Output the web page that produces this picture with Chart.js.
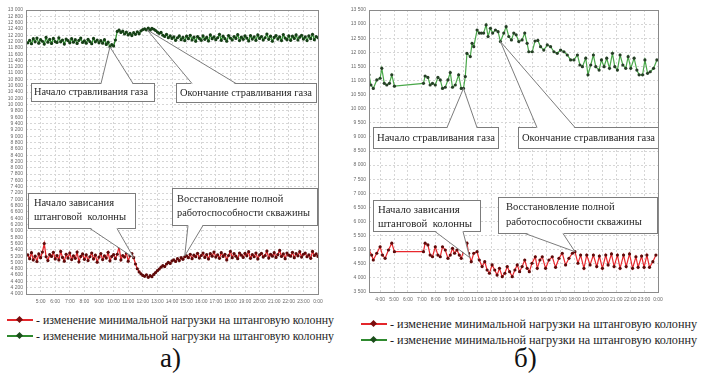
<!DOCTYPE html>
<html>
<head>
<meta charset="utf-8">
<script src="https://cdn.jsdelivr.net/npm/chart.js@4.4.1/dist/chart.umd.min.js"></script>
<style>
html,body{margin:0;padding:0;background:#fff;}
body{width:703px;height:375px;overflow:hidden;position:relative;font-family:"Liberation Serif","DejaVu Serif","Noto Serif",serif;}
#ca{position:absolute;left:0;top:0;}
#cb{position:absolute;left:345px;top:0;}
.leg{position:absolute;font-size:13px;color:#1e1e1e;white-space:nowrap;line-height:16px;}
.ic{display:inline-block;position:relative;width:26px;height:2px;vertical-align:middle;margin-right:3px;top:-1px;}
.ic::after{content:"";position:absolute;left:10px;top:-2px;width:5px;height:5px;transform:rotate(45deg);}
.ic.r{background:#e3262b;} .ic.r::after{background:#7a0d0d;}
.ic.g{background:#2f8a2f;} .ic.g::after{background:#1b4d1b;}
.cap{position:absolute;font-size:27px;color:#111;line-height:30px;}
</style>
</head>
<body>
<canvas id="ca" width="328" height="310"></canvas>
<canvas id="cb" width="325" height="310"></canvas>
<div class="leg" id="l1" style="left:7px;top:312px"><span class="ic r"></span><span class="tx">- изменение минимальной нагрузки на штанговую колонну</span></div>
<div class="leg" id="l2" style="left:7px;top:328px"><span class="ic g"></span><span class="tx">- изменение минимальной нагрузки на штанговую колонну</span></div>
<div class="leg" id="l3" style="left:361px;top:316px"><span class="ic r"></span><span class="tx">- изменение минимальной нагрузки на штанговую колонну</span></div>
<div class="leg" id="l4" style="left:361px;top:332px"><span class="ic g"></span><span class="tx">- изменение минимальной нагрузки на штанговую колонну</span></div>
<div class="cap" style="left:160px;top:343px">а)</div>
<div class="cap" style="left:514px;top:343px">б)</div>
<script>
const SERIF = '"Liberation Serif", "DejaVu Serif", "Noto Serif", serif';
// ---------- Chart a) ----------
const leftStartHour = 4.125, leftStepHour = 0.125; // sampling of chart a)
const leftGreen = [
 11960,12040,11930,12090,11990,12110,11950,12060,
 12010,11920,12130,11980,12070,11940,12100,12000,
 11970,12120,11990,12050,11920,12080,12030,11960,
 12090,11980,12060,11940,12040,12110,11970,12020,
 11950,12070,12000,11930,12100,11990,12050,11960,
 12030,11950,12060,11910,11980,11830,11900,11860,
 12050,12320,12360,12290,12330,12240,12300,12210,
 12260,12190,12280,12230,12310,12250,12340,12380,
 12400,12370,12430,12360,12420,12390,12350,12300,
 12260,12290,12200,12160,12230,12120,12180,12100,
 12150,12040,12120,12180,12060,12130,12030,12170,
 12090,12200,12050,12140,12010,12160,12100,12040,
 12180,12070,12130,12020,12210,12090,12150,12060,
 12120,12230,12040,12170,12090,12010,12190,12110,
 12050,12160,12100,12220,12030,12140,12070,12180,
 12110,12020,12190,12080,12150,12040,12210,12100,
 12160,12050,12120,12240,12070,12170,12010,12130,
 12190,12080,12150,12030,12220,12110,12060,12180,
 12040,12170,12100,12210,12050,12140,12200,12080,
 12150,12030,12180,12090,12230,12060,12160,12120
];
const leftRed = [
 5240,5120,5310,5080,5200,5030,5270,5150,
 5330,5600,5180,5060,5250,5190,5320,5110,
 5220,5080,5350,5160,5040,5260,5140,5300,
 5090,5210,5130,5330,5020,5190,5270,5100,
 5240,5060,5180,5300,5110,5230,5010,5170,
 5280,5090,5210,5140,5320,5050,5190,5250,
 5120,5260,5500,5080,5220,5170,5300,5040,
 5210,5280,5150,4950,4800,4700,4640,4590,
 4560,4610,4530,4580,4550,4620,4680,4740,
 4790,4850,4900,4870,4950,5000,4970,5050,
 5080,5030,5120,5060,5150,5100,5180,5210,
 5150,5260,5120,5230,5180,5290,5140,5220,
 5300,5160,5250,5110,5280,5200,5330,5170,
 5240,5130,5310,5190,5260,5080,5220,5350,
 5150,5280,5200,5120,5300,5230,5160,5290,
 5210,5340,5130,5250,5180,5300,5110,5240,
 5290,5170,5220,5360,5140,5260,5200,5310,
 5160,5250,5380,5190,5270,5120,5300,5230,
 5200,5320,5150,5280,5210,5340,5170,5260,
 5300,5180,5240,5130,5350,5220,5270,5190
];
const leftTimes = leftGreen.map((_, i) => leftStartHour + i * leftStepHour);
const leftXTicks = [5,6,7,8,9,10,11,12,13,14,15,16,17,18,19,20,21,22,23,24];
const leftYTicks = [4000,4200,4400,4600,4800,5000,5200,5400,5600,5800,6000,6200,6400,6600,6800,7000,7200,7400,7600,7800,8000,8200,8400,8600,8800,9000,9200,9400,9600,9800,10000,10200,10400,10600,10800,11000,11200,11400,11600,11800,12000,12200,12400,12600,12800,13000];

// ---------- Chart б) ----------
const rightGreenTimes = [3.2,3.34,3.51,3.76,4.0,4.12,4.3,4.48,4.67,4.84,5.03,7.12,7.24,7.44,7.6,7.77,7.97,8.16,8.33,8.49,8.69,8.88,9.05,9.21,9.41,9.65,9.84,10.0,10.13,10.25,10.49,10.62,10.74,10.98,11.14,11.29,11.45,11.63,11.77,11.94,12.1,12.3,12.49,12.66,12.9,13.07,13.26,13.45,13.62,13.79,13.98,14.22,14.41,14.58,14.7,14.95,15.15,15.35,15.55,15.78,16.03,16.27,16.51,16.75,16.99,17.23,17.47,17.71,17.95,18.2,18.38,18.56,18.8,18.96,19.16,19.35,19.52,19.76,19.93,20.12,20.31,20.51,20.72,20.89,21.08,21.27,21.47,21.68,21.85,22.04,22.28,22.48,22.64,22.89,23.06,23.25,23.44,23.68,23.92];
const rightGreenValues = [11200,10840,10720,11020,11080,11430,10900,10840,10900,11200,10800,10900,11160,11110,10840,10900,10840,11110,11020,10720,10760,11020,11280,10760,10840,11200,10720,10720,11140,11960,11850,12320,12200,12790,12680,12680,12680,12970,12560,12850,12680,12790,12730,12380,12680,12910,12560,12440,12680,12620,12380,12440,12680,12320,12020,12020,12400,12420,12200,12080,12260,12200,12020,11965,12080,12020,11905,11730,11730,11905,11550,11490,11790,11200,11550,11905,11490,11370,11730,11490,11790,11430,11965,11490,11370,11905,11550,11430,11845,11430,11790,11370,11200,11200,11730,11255,11310,11430,11730];
const rightRedTimes = [3.2,3.39,3.51,3.76,4.0,4.17,4.36,4.6,4.84,5.03,7.12,7.24,7.44,7.6,7.77,7.97,8.16,8.33,8.49,8.69,8.88,9.05,9.21,9.36,9.53,9.7,9.84,10.0,10.25,10.37,10.56,10.74,10.98,11.14,11.34,11.53,11.7,11.87,12.06,12.25,12.42,12.59,12.79,12.98,13.15,13.32,13.51,13.7,13.87,14.04,14.22,14.41,14.58,14.74,14.93,15.17,15.31,15.5,15.67,15.91,16.15,16.39,16.63,16.87,17.11,17.35,17.59,17.84,18.02,18.24,18.43,18.67,18.87,19.11,19.35,19.59,19.78,20.0,20.24,20.41,20.65,20.84,21.08,21.27,21.52,21.71,21.95,22.17,22.41,22.57,22.82,23.0,23.2,23.39,23.63,23.85];
const rightRedValues = [4990,4810,4635,4875,5105,4810,4695,4990,5230,4930,4930,5230,5170,4810,4750,5105,4810,4750,5105,4990,4695,4810,5050,4875,4990,4810,4695,4930,5230,4875,4575,4875,4930,4635,4400,4575,4280,4165,4460,4280,4100,4340,4045,4165,4400,4220,4045,4280,4460,4220,4400,4635,4340,4220,4520,4750,4340,4635,4750,4340,4635,4750,4375,4695,4875,4460,4695,4875,4930,4520,4810,4340,4810,4460,4810,4400,4775,4340,4810,4460,4850,4400,4810,4340,4810,4400,4850,4340,4750,4375,4775,4375,4810,4375,4575,4810];
const rightXTicks = [4,5,6,7,8,9,10,11,12,13,14,15,16,17,18,19,20,21,22,23,24];
const rightYTicks = [3500,4000,4500,5000,5500,6000,6500,7000,7500,8000,8500,9000,9500,10000,10500,11000,11500,12000,12500,13000,13500];

// ---------- callout annotations (tip in data units, boxes in canvas px, fit = target width of widest line) ----------
const leftCallouts = [
  {box:[31,83,123,18], side:'top', base:[101,133], tip:[9.75,11830], lines:['Начало стравливания газа'], tx:34, ty:[92.5], fit:114},
  {box:[176,83,140,19], side:'top', base:[192,236], tip:[12.3,12370], lines:['Окончание стравливания газа'], tx:180, ty:[93], fit:132},
  {box:[28,193,107,35], side:'bottom', base:[90,117], tip:[11.375,5150], lines:['Начало зависания','штанговой  колонны'], tx:34, ty:[203.5,217.5], fit:92},
  {box:[172,188,145,37], side:'bottom', base:[188,203], tip:[14.875,5210], lines:['Восстановление полной','работоспособности скважины'], tx:177, ty:[199.5,213.5], fit:133}
];
const rightCallouts = [
  {box:[28,127,125,21], side:'top', base:[102,132], tip:[10.0,10720], lines:['Начало стравливания газа'], tx:32, ty:[138], fit:118},
  {box:[173,127,140,21], side:'top', base:[192,230], tip:[12.66,12380], lines:['Окончание стравливания газа'], tx:177, ty:[138], fit:133},
  {box:[28,200,107,31], side:'bottom', base:[90,118], tip:[10.45,4720], lines:['Начало зависания','штанговой  колонны'], tx:33, ty:[210.5,224], fit:94},
  {box:[153,197,159,36], side:'bottom', base:[180,218], tip:[18.02,4930], lines:['Восстановление полной','работоспособности скважины'], tx:161, ty:[207,222], fit:136}
];

const measureCtx = document.createElement('canvas').getContext('2d');
function fitSize(texts, target, base) {
  measureCtx.font = base + 'px ' + SERIF;
  const w = Math.max(...texts.map(t => measureCtx.measureText(t).width));
  return base * target / w;
}

const calloutPlugin = {
  id: 'callouts',
  afterDatasetsDraw(chart, args, opts) {
    const {ctx} = chart;
    const xs = chart.scales.x, ys = chart.scales.y;
    (opts.items || []).forEach(it => {
      const tx = xs.getPixelForValue(it.tip[0]);
      const ty = ys.getPixelForValue(it.tip[1]);
      const [bx, by, bw, bh] = it.box;
      ctx.save();
      ctx.lineWidth = 1;
      ctx.strokeStyle = '#7c7c7c';
      ctx.fillStyle = '#ffffff';
      ctx.fillRect(bx, by, bw, bh);
      ctx.strokeRect(bx + 0.5, by + 0.5, bw, bh);
      const ey = it.side === 'top' ? by + 0.5 : by + bh + 0.5;
      const iy = it.side === 'top' ? ey + 1 : ey - 1;
      ctx.beginPath();
      ctx.moveTo(it.base[0], iy); ctx.lineTo(tx, ty); ctx.lineTo(it.base[1], iy); ctx.closePath();
      ctx.fill();
      ctx.beginPath();
      ctx.moveTo(it.base[0], ey); ctx.lineTo(tx, ty); ctx.lineTo(it.base[1], ey);
      ctx.stroke();
      ctx.fillStyle = '#262626';
      const size = Math.min(13, fitSize(it.lines, it.fit, 12));
      ctx.font = size.toFixed(2) + 'px ' + SERIF;
      ctx.textBaseline = 'middle';
      ctx.textAlign = 'left';
      it.lines.forEach((t, k) => ctx.fillText(t, it.tx, it.ty[k]));
      ctx.restore();
    });
  }
};

const framePlugin = {
  id: 'frame',
  afterDraw(chart) {
    const {ctx, chartArea: a} = chart;
    ctx.save();
    ctx.strokeStyle = '#8a8a8a';
    ctx.lineWidth = 1;
    ctx.strokeRect(Math.round(a.left) + 0.5, Math.round(a.top) + 0.5, Math.round(a.right - a.left), Math.round(a.bottom - a.top));
    ctx.restore();
  }
};

function fmtThousands(v) {
  const t = Math.floor(v / 1000), r = v % 1000;
  return t + ' ' + String(r).padStart(3, '0');
}

function buildChart(canvasId, cfg) {
  return new Chart(document.getElementById(canvasId), {
    type: 'line',
    data: {datasets: cfg.datasets},
    plugins: [calloutPlugin, framePlugin],
    options: {
      responsive: false, animation: false, devicePixelRatio: 1,
      layout: {padding: {top: 10, right: cfg.padRight, left: 0, bottom: 0}},
      plugins: {legend: {display: false}, tooltip: {enabled: false}, callouts: {items: cfg.callouts}},
      scales: {
        x: {
          type: 'linear', min: cfg.xMin, max: cfg.xMax,
          afterBuildTicks: s => { s.ticks = cfg.xTicks.map(v => ({value: v})); },
          afterFit: s => { s.height = cfg.xAxisH; },
          grid: {color: '#d6d6d6', lineWidth: 1, drawTicks: false},
          border: {display: false, dash: [2, 2]},
          ticks: {autoSkip: false, maxRotation: 0, padding: 5, color: '#6a6a6a', font: {size: 5, family: 'Liberation Sans'}, callback: v => (v % 24) + ':00'}
        },
        y: {
          type: 'linear', min: cfg.yMin, max: cfg.yMax,
          afterBuildTicks: s => { s.ticks = cfg.yTicks.map(v => ({value: v})); },
          afterFit: s => { s.width = cfg.yAxisW; },
          grid: {color: '#d6d6d6', lineWidth: 1, drawTicks: false},
          border: {display: false, dash: [2, 2]},
          ticks: {autoSkip: false, padding: 3, color: '#6a6a6a', font: {size: 5, family: 'Liberation Sans'}, callback: v => fmtThousands(v)}
        }
      }
    }
  });
}

function series(times, values, line, dot, width) {
  return {
    data: values.map((v, i) => ({x: times[i], y: v})),
    borderColor: line, borderWidth: width, tension: 0,
    pointRadius: 1.6, pointBorderWidth: 0, pointBackgroundColor: dot
  };
}

// legend text sizing to the reference widths
[['l1', 298], ['l2', 298], ['l3', 307], ['l4', 307]].forEach(([id, w]) => {
  const el = document.querySelector('#' + id + ' .tx');
  el.style.fontSize = Math.min(15, fitSize([el.textContent], w, 13)).toFixed(2) + 'px';
});

buildChart('ca', {
  datasets: [
    series(leftTimes, leftGreen, '#2e8f2e', '#163f16', 1.3),
    series(leftTimes, leftRed, '#e3262b', '#5e0a0a', 1.3)
  ],
  xMin: 4, xMax: 24, xTicks: leftXTicks, yMin: 4000, yMax: 13000, yTicks: leftYTicks,
  yAxisW: 26, xAxisH: 16, padRight: 10, callouts: leftCallouts
});

buildChart('cb', {
  datasets: [
    series(rightGreenTimes, rightGreenValues, '#4aa84a', '#263f26', 1.2),
    series(rightRedTimes, rightRedValues, '#e8282d', '#5e0a0a', 1.2)
  ],
  xMin: 3.2, xMax: 24, xTicks: rightXTicks, yMin: 3500, yMax: 13500, yTicks: rightYTicks,
  yAxisW: 24, xAxisH: 18, padRight: 12, callouts: rightCallouts
});
</script>
</body>
</html>
